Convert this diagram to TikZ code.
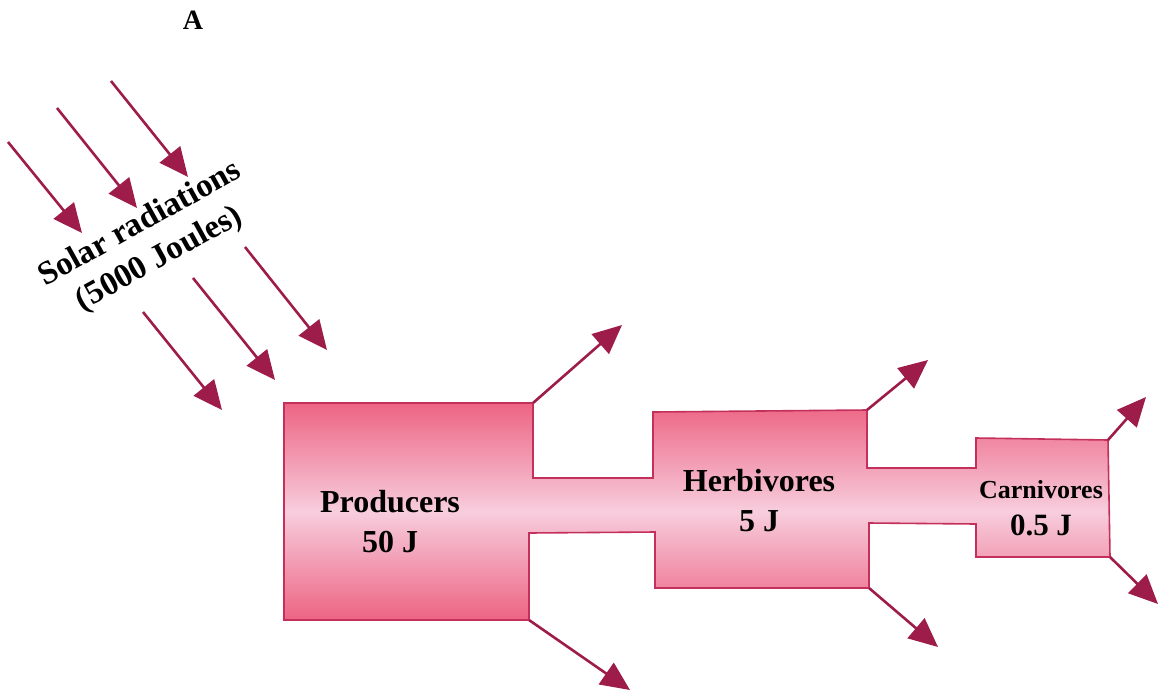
\documentclass[tikz,border=0pt]{standalone}
\usepackage{fontspec}
\setmainfont{Liberation Serif}
\usetikzlibrary{arrows.meta}
\definecolor{pinkdark}{RGB}{237,100,131}
\definecolor{pinklight}{RGB}{247,205,221}
\definecolor{edgec}{RGB}{196,48,92}
\definecolor{arrowc}{RGB}{158,28,74}
\tikzset{
  flow/.style={draw=arrowc, line width=2.6pt, -{Triangle[length=29pt,width=26pt]}},
  lbl/.style={font=\fontsize{32}{40}\selectfont\bfseries, align=center, inner sep=0pt},
  slbl/.style={font=\fontsize{26}{37}\selectfont\bfseries, align=center, inner sep=0pt}
}
\begin{document}
\begin{tikzpicture}[x=1pt,y=-1pt]
\useasboundingbox (0,0) rectangle (1159,694);
% outline corners
\coordinate (p1) at (284,403);
\coordinate (p2) at (533,403);
\coordinate (p3) at (533,478);
\coordinate (h1) at (653,478);
\coordinate (h2) at (653,412);
\coordinate (h3) at (867,410);
\coordinate (h4) at (867,468);
\coordinate (c1) at (976,468);
\coordinate (c2) at (976,438);
\coordinate (c3) at (1108,440);
\coordinate (c4) at (1110,557);
\coordinate (c5) at (976,557);
\coordinate (c6) at (976,524);
\coordinate (h5) at (869,523);
\coordinate (h6) at (869,588);
\coordinate (h7) at (655,588);
\coordinate (h8) at (655,532);
\coordinate (p4) at (529,533);
\coordinate (p5) at (529,620);
\coordinate (p6) at (284,620);
\draw[draw=edgec, line width=1.6pt, top color=pinkdark, bottom color=pinkdark, middle color=pinklight]
  (p1) -- (p2) -- (p3) -- (h1) -- (h2) -- (h3) -- (h4) -- (c1) -- (c2) -- (c3) -- (c4) -- (c5) -- (c6) -- (h5) -- (h6) -- (h7) -- (h8) -- (p4) -- (p5) -- (p6) -- cycle;
% labels
\node[lbl] (prod) at (390,522) {Producers\\50 J};
\node[lbl] (herb) at (759,501) {Herbivores\\5 J};
\node[slbl] (carn) at (1041,508) {Carnivores\\\fontsize{31}{37}\selectfont 0.5 J};
\node[font=\fontsize{28}{32}\selectfont\bfseries, inner sep=0pt] (A) at (193,20) {A};
\node[font=\fontsize{33}{40}\selectfont\bfseries, align=center, inner sep=0pt, rotate=29] (solar) at (150,242) {Solar radiations\\(5000 Joules)};
% solar arrows
\coordinate (s1a) at (8,142);   \coordinate (s1b) at (82,233);
\coordinate (s2a) at (57,108);  \coordinate (s2b) at (137,208);
\coordinate (s3a) at (111,81);  \coordinate (s3b) at (188,177);
\coordinate (s4a) at (143,312); \coordinate (s4b) at (222,410);
\coordinate (s5a) at (193,278); \coordinate (s5b) at (275,380);
\coordinate (s6a) at (245,247); \coordinate (s6b) at (327,350);
\foreach \i in {1,...,6} { \draw[flow] (s\i a) -- (s\i b); }
% energy loss arrows
\coordinate (o1) at (622,325);
\coordinate (o2) at (630,690);
\coordinate (o3) at (928,360);
\coordinate (o4) at (938,647);
\coordinate (o5) at (1146,397);
\coordinate (o6) at (1158,604);
\draw[flow] (p2) -- (o1);
\draw[flow] (p5) -- (o2);
\draw[flow] (h3) -- (o3);
\draw[flow] (h6) -- (o4);
\draw[flow] (c3) -- (o5);
\draw[flow] (c4) -- (o6);
\end{tikzpicture}
\end{document}
